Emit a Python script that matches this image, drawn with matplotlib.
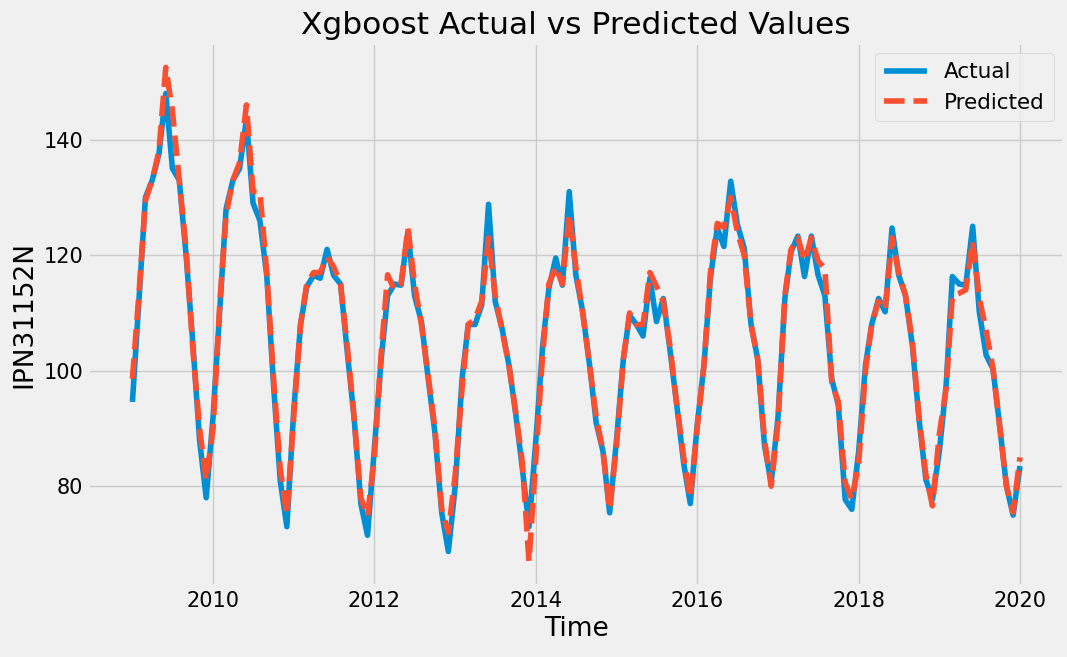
import matplotlib
matplotlib.use("Agg")
import matplotlib.pyplot as plt
import pandas as pd

plt.style.use("fivethirtyeight")

dates = pd.date_range("2009-01-01", "2020-01-01", freq="MS")

actual = [
    94.6, 113, 130, 133, 137.5, 148, 135, 133, 120, 105, 88, 78,
    92, 111, 128, 133, 135, 143.5, 129, 126, 116.5, 98, 81, 73,
    93, 108, 114.5, 116.5, 116, 121, 116.5, 115, 103, 92, 77, 71.5,
    86.5, 102, 113, 115, 114.8, 124, 113, 108.5, 98.6, 89.3, 75.4, 68.7,
    80, 98.6, 108, 108, 111.4, 128.8, 112, 107.3, 101, 92.8, 83, 73,
    88, 104.4, 114.3, 119.5, 114.8, 131, 116.6, 110.2, 101, 91, 86, 75.4,
    88, 102, 109.6, 108, 106, 116, 108.5, 112.5, 103.3, 94, 84, 77,
    90.5, 101, 116, 124.7, 121.5, 132.8, 125.3, 121.2, 108, 102, 87, 80.6,
    92, 112.5, 120.6, 123.3, 116.3, 123.3, 116.6, 113, 98.6, 94, 77.7, 76,
    86, 101, 108, 112.5, 110.2, 124.7, 116.6, 113, 104.4, 91.7, 81.2, 77.7,
    86, 97.5, 116.3, 115, 114.8, 125, 110.2, 102.7, 100.3, 90.5, 80, 75,
    83.5,
]

predicted = [
    98.6, 114, 129.5, 133, 138, 152.5, 145, 133, 121, 104, 90, 81,
    90, 112, 127, 133, 136, 146, 131, 131, 117, 99, 83, 75,
    92, 108, 115, 117, 117, 119.7, 118, 115, 104, 92, 78, 74.8,
    85, 103, 116.6, 114, 115, 124.7, 115, 108, 99, 90, 76, 72,
    82, 97, 108, 109, 112, 123, 113, 107, 101, 93, 84, 67,
    85, 103, 115, 118, 115, 127, 118, 110, 101, 92, 86, 76,
    87, 102, 110, 108, 108, 117, 114.6, 112, 104, 94, 85, 78,
    90, 101, 117, 125.5, 124.8, 130, 124, 120, 108, 102, 88, 80,
    91, 113, 121, 123, 119, 123, 119, 117.7, 98, 94.6, 80.6, 77.7,
    84, 100, 108, 112, 110.5, 123, 117, 113, 105, 92, 82, 76.6,
    89, 97, 113, 113.4, 114, 122.4, 112.6, 106.9, 100.3, 90.5, 80, 75.5,
    85,
]

fig = plt.figure(figsize=(10.67, 6.57), dpi=100)
ax = fig.add_axes([0.0825, 0.108, 0.915, 0.827])
ax.plot(dates, actual, label="Actual")
ax.plot(dates, predicted, label="Predicted", linestyle="--")
ax.set_title("Xgboost Actual vs Predicted Values", fontsize=22.5)
ax.set_xlabel("Time", fontsize=19)
ax.set_ylabel("IPN31152N", fontsize=19)
ax.tick_params(labelsize=15)
ax.legend(fontsize=15.5, loc="upper right")
fig.savefig("out.png", dpi=100)
